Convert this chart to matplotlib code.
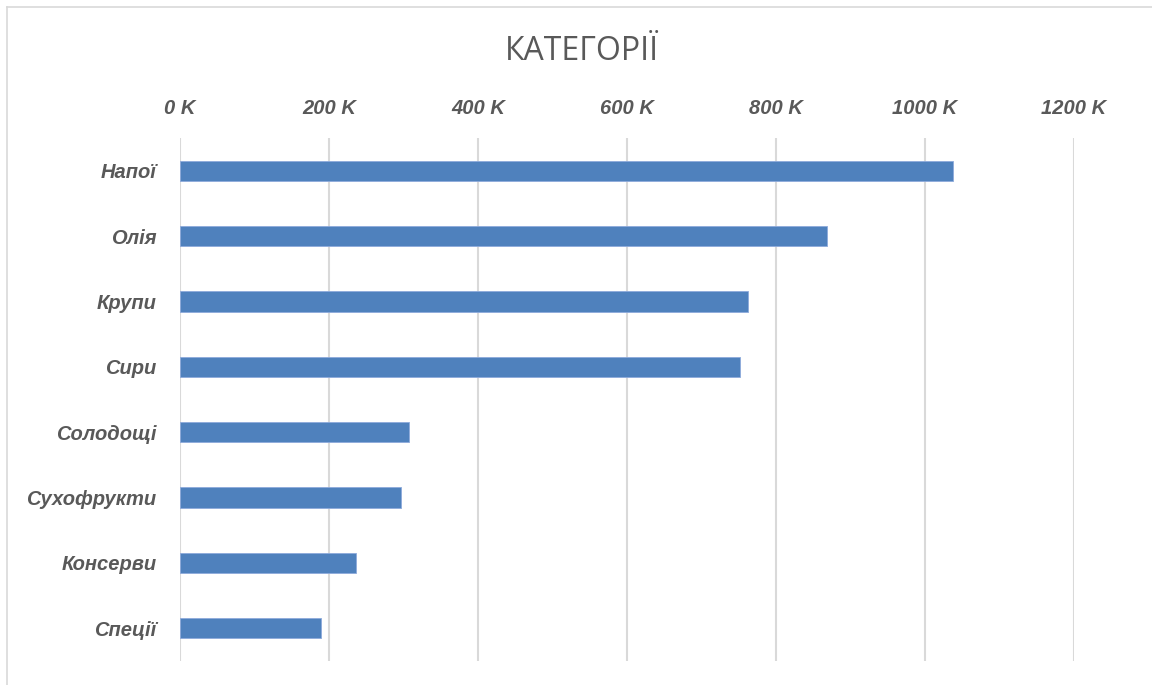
import matplotlib
matplotlib.use("Agg")
import matplotlib.pyplot as plt
from matplotlib.lines import Line2D

categories = ["Напої", "Олія", "Крупи", "Сири", "Солодощі", "Сухофрукти", "Консерви", "Спеції"]
values = [1037, 869, 763, 752, 307, 297, 236, 189]  # thousands
tick_values = [0, 200, 400, 600, 800, 1000, 1200]
tick_labels = ["0 K", "200 K", "400 K", "600 K", "800 K", "1000 K", "1200 K"]
title = "КАТЕГОРІЇ"

W, H = 1152, 685
fig = plt.figure(figsize=(W / 100, H / 100), dpi=100)
fam = ["Liberation Sans", "DejaVu Sans"]
gray = "#595959"

left, right, top, bottom = 180, 1074, 138, 661
ax = fig.add_axes([left / W, 1 - bottom / H, (right - left) / W, (bottom - top) / H])

y = list(range(len(categories)))
ax.barh(y, values, height=0.31, color="#4F81BD", edgecolor="#8EAADB", linewidth=0.6, zorder=3)
ax.set_ylim(len(categories) - 0.5, -0.5)
ax.set_xlim(0, 1200)
ax.set_yticks(y)
ax.set_yticklabels(categories, fontsize=14.5, fontweight="bold", fontstyle="italic",
                   color=gray, family=fam)
ax.xaxis.tick_top()
ax.set_xticks(tick_values)
ax.set_xticklabels(tick_labels, fontsize=14.5, fontweight="bold", fontstyle="italic",
                   color=gray, family=fam)
ax.tick_params(axis="x", length=0, pad=14.5)
ax.tick_params(axis="y", length=0, pad=17)
for s in ax.spines.values():
    s.set_visible(False)
ax.grid(axis="x", color="#D9D9D9", linewidth=1.5, zorder=0)
ax.set_axisbelow(True)

fig.text(582 / W, 1 - 51 / H, title, ha="center", va="center", fontsize=23,
         color=gray, family=["Open Sans", "DejaVu Sans"])

# chart border
fig.add_artist(Line2D([7 / W, 7 / W], [0, 1 - 7 / H], transform=fig.transFigure,
                      color="#D9D9D9", linewidth=1.2))
fig.add_artist(Line2D([7 / W, 1], [1 - 7 / H, 1 - 7 / H], transform=fig.transFigure,
                      color="#D9D9D9", linewidth=1.2))

fig.savefig("out.png", dpi=100)
